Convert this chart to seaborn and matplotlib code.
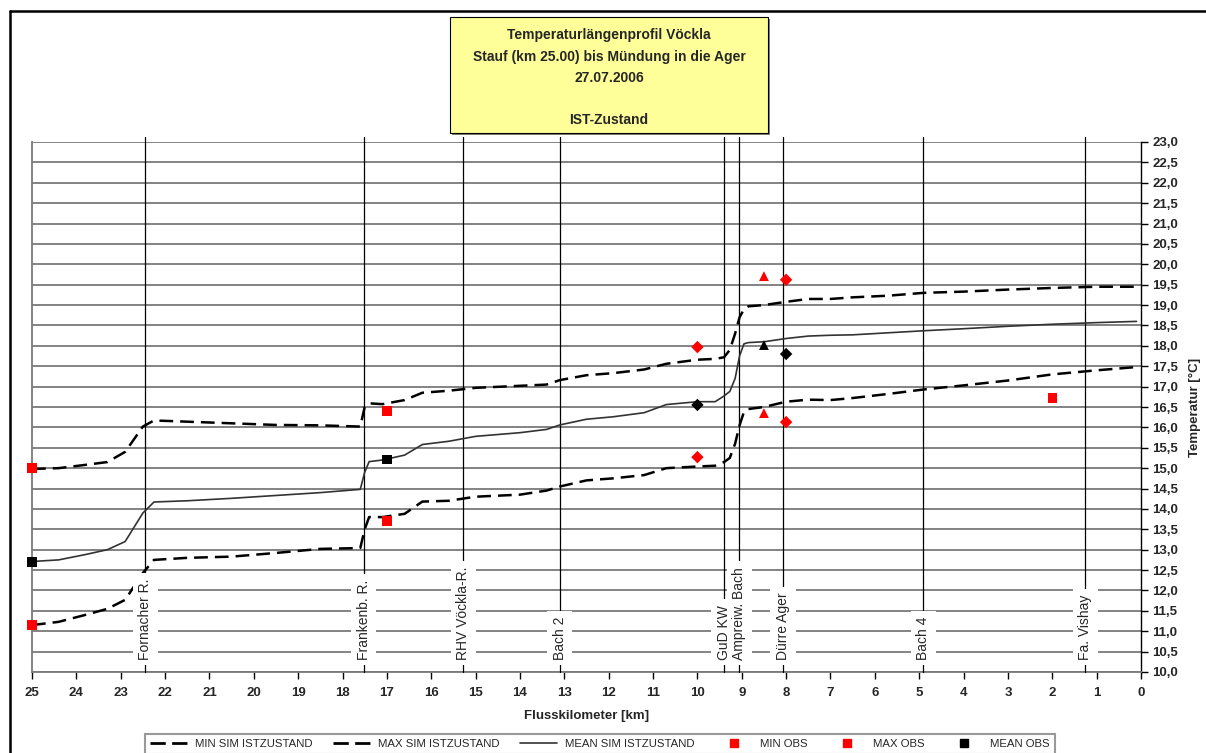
import matplotlib
matplotlib.use("Agg")
import matplotlib.pyplot as plt
import seaborn as sns
import pandas as pd
import numpy as np
from matplotlib.lines import Line2D
from matplotlib.patches import Rectangle
from matplotlib.ticker import FuncFormatter, MultipleLocator

# simulated profiles (river km -> temperature degC)
sim_km = [25, 24.4, 23.8, 23.3, 22.9, 22.5, 22.25, 21.5, 20.5, 19.5, 18.5, 17.6, 17.5, 17.4,
          17.1, 16.6, 16.2, 15.6, 15.0, 14.0, 13.4, 13.1, 12.5, 11.9, 11.2, 10.7, 10.0, 9.6,
          9.4, 9.27, 9.15, 9.05, 8.95, 8.85, 8.5, 8.0, 7.5, 7.0, 6.5, 5.7, 4.9, 4.0, 3.0,
          2.0, 1.0, 0.1]
min_sim = [11.15, 11.23, 11.4, 11.55, 11.77, 12.43, 12.75, 12.8, 12.83, 12.92, 13.02, 13.04,
           13.5, 13.8, 13.8, 13.88, 14.18, 14.2, 14.3, 14.35, 14.45, 14.55, 14.7, 14.75,
           14.83, 15.0, 15.04, 15.06, 15.15, 15.25, 15.6, 16.05, 16.38, 16.45, 16.5, 16.63,
           16.68, 16.67, 16.72, 16.82, 16.93, 17.03, 17.15, 17.3, 17.4, 17.48]
max_sim = [14.98, 15.0, 15.08, 15.15, 15.4, 16.02, 16.17, 16.14, 16.1, 16.06, 16.05, 16.02,
           16.5, 16.59, 16.57, 16.67, 16.85, 16.9, 16.97, 17.02, 17.05, 17.16, 17.28, 17.33,
           17.42, 17.56, 17.66, 17.68, 17.72, 17.9, 18.3, 18.7, 18.9, 18.97, 19.0, 19.08,
           19.15, 19.15, 19.19, 19.23, 19.3, 19.33, 19.38, 19.42, 19.45, 19.45]
mean_sim = [12.71, 12.75, 12.88, 13.0, 13.2, 13.9, 14.17, 14.2, 14.26, 14.33, 14.4, 14.48,
            14.9, 15.16, 15.2, 15.32, 15.58, 15.66, 15.78, 15.87, 15.95, 16.06, 16.2, 16.26,
            16.36, 16.56, 16.63, 16.63, 16.77, 16.88, 17.2, 17.75, 18.05, 18.08, 18.1, 18.18,
            18.24, 18.26, 18.27, 18.32, 18.37, 18.42, 18.48, 18.53, 18.57, 18.6]

# observations
obs_km = [25, 17, 10, 8.5, 8, 2]
obs_marker = ["s", "s", "D", "^", "D", "s"]
min_obs = [11.15, 13.7, 15.27, 16.35, 16.13, 16.72]
max_obs = [15.0, 16.4, 17.97, 19.71, 19.62, np.nan]
mean_obs = [12.7, 15.22, 16.55, 18.02, 17.8, np.nan]

# tributaries / discharges
trib_km = [22.45, 17.52, 15.28, 13.1, 9.4, 9.06, 8.07, 4.91, 1.26]
trib_names = ["Fornacher R.", "Frankenb. R.", "RHV Vöckla-R.", "Bach 2", "GuD KW",
              "Ampreiw. Bach", "Dürre Ager", "Bach 4", "Fa. Vishay"]

sns.set_style("white")
plt.rcParams["font.family"] = ["Liberation Sans", "DejaVu Sans"]

fig = plt.figure(figsize=(12.06, 7.53), dpi=100)
ax = fig.add_axes([32 / 1206, 1 - 672 / 753, (1141 - 32) / 1206, (672 - 142) / 753])

sim = pd.DataFrame({"km": sim_km, "min": min_sim, "max": max_sim, "mean": mean_sim})
dash = (0, (5.5, 2.8))
sns.lineplot(data=sim, x="km", y="min", ax=ax, color="black", lw=1.8, linestyle=dash,
             sort=False, zorder=4)
sns.lineplot(data=sim, x="km", y="max", ax=ax, color="black", lw=1.8, linestyle=dash,
             sort=False, zorder=4)
sns.lineplot(data=sim, x="km", y="mean", ax=ax, color="#333333", lw=1.2, sort=False, zorder=4)

obs = pd.DataFrame({"km": obs_km, "marker": obs_marker, "min": min_obs,
                    "max": max_obs, "mean": mean_obs})
sizes = {"s": 45, "D": 40, "^": 50}
for mk, grp in obs.groupby("marker"):
    for col, colr in [("min", "red"), ("max", "red"), ("mean", "black")]:
        sns.scatterplot(data=grp, x="km", y=col, ax=ax, marker=mk, color=colr,
                        s=sizes[mk], edgecolor="none", zorder=6, clip_on=False)

# tributary lines with labels
for k, name in zip(trib_km, trib_names):
    ax.plot([k, k], [10, 23.12], color="black", lw=0.9, zorder=3, clip_on=False)
    ax.text(k, 10.3, name, rotation=90, ha="center", va="bottom", fontsize=10, zorder=5,
            bbox=dict(facecolor="white", edgecolor="none", pad=4))

ax.set_xlim(25, 0)
ax.set_ylim(10, 23)
ax.xaxis.set_major_locator(MultipleLocator(1))
ax.yaxis.set_major_locator(MultipleLocator(0.5))
ax.xaxis.set_major_formatter(FuncFormatter(lambda v, p: f"{v:.0f}"))
ax.yaxis.set_major_formatter(FuncFormatter(lambda v, p: f"{v:.1f}".replace(".", ",")))
ax.yaxis.tick_right()
ax.yaxis.set_label_position("right")
ax.grid(axis="y", color="#7a7a7a", lw=1.3, zorder=1)
ax.grid(axis="x", visible=False)
ax.set_axisbelow(True)
for s in ["left", "top", "bottom"]:
    ax.spines[s].set_color("#7a7a7a")
    ax.spines[s].set_linewidth(1.3)
ax.spines["top"].set_visible(False)
ax.spines["right"].set_color("black")
ax.spines["right"].set_linewidth(1.0)
ax.tick_params(axis="x", direction="out", length=5, width=1, color="black",
               labelsize=9.5, pad=6, bottom=True)
ax.tick_params(axis="y", direction="out", length=5, width=1, color="black",
               labelsize=9.5, pad=3, right=True, left=False)
for lab in ax.get_xticklabels() + ax.get_yticklabels():
    lab.set_fontweight("bold")
ax.set_xlabel("Flusskilometer [km]", fontsize=9.5, fontweight="bold", labelpad=8)
ax.set_ylabel("Temperatur [°C]", fontsize=9.5, fontweight="bold", labelpad=8)

# outer chart frame
fig.add_artist(Line2D([10 / 1206, 10 / 1206], [-0.1, 1 - 11 / 753], color="black", lw=1.8,
                      transform=fig.transFigure))
fig.add_artist(Line2D([10 / 1206, 1.1], [1 - 11 / 753, 1 - 11 / 753], color="black", lw=1.8,
                      transform=fig.transFigure))

# title box
bx0, bx1, by0, by1 = 450, 768, 17, 133
fig.add_artist(Rectangle((bx0 / 1206 + 2 / 1206, 1 - by1 / 753 - 2 / 753),
                         (bx1 - bx0) / 1206, (by1 - by0) / 753, transform=fig.transFigure,
                         facecolor="#808080", edgecolor="none", zorder=1))
fig.add_artist(Rectangle((bx0 / 1206, 1 - by1 / 753), (bx1 - bx0) / 1206, (by1 - by0) / 753,
                         transform=fig.transFigure, facecolor="#ffff99", edgecolor="black",
                         lw=0.8, zorder=2))
title_lines = ["Temperaturlängenprofil Vöckla", "Stauf (km 25.00) bis Mündung in die Ager",
               "27.07.2006", "IST-Zustand"]
title_y = [35, 57, 78, 120]
cx = (bx0 + bx1) / 2 / 1206
for t, ty in zip(title_lines, title_y):
    fig.text(cx, 1 - ty / 753, t, ha="center", va="center", fontsize=10,
             fontweight="bold", zorder=3)

# legend
leg_dash = (0, (5.5, 2.3))
handles = [
    Line2D([], [], color="black", lw=2.0, linestyle=leg_dash),
    Line2D([], [], color="black", lw=2.0, linestyle=leg_dash),
    Line2D([], [], color="#333333", lw=1.2),
    Line2D([], [], color="red", marker="s", ls="none", markersize=6),
    Line2D([], [], color="red", marker="s", ls="none", markersize=6),
    Line2D([], [], color="black", marker="s", ls="none", markersize=6),
]
labels = ["MIN SIM ISTZUSTAND", "MAX SIM ISTZUSTAND", "MEAN SIM ISTZUSTAND",
          "MIN OBS", "MAX OBS", "MEAN OBS"]
leg = fig.legend(handles, labels, loc="upper left", bbox_to_anchor=(145 / 1206, 1 - 734 / 753),
                 ncol=6, fontsize=8.2, frameon=True, fancybox=False, edgecolor="#808080",
                 handlelength=3.25, columnspacing=1.8, handletextpad=0.7, borderpad=0.45,
                 borderaxespad=0)
leg.get_frame().set_linewidth(1.5)

fig.savefig("out.png", dpi=100)
